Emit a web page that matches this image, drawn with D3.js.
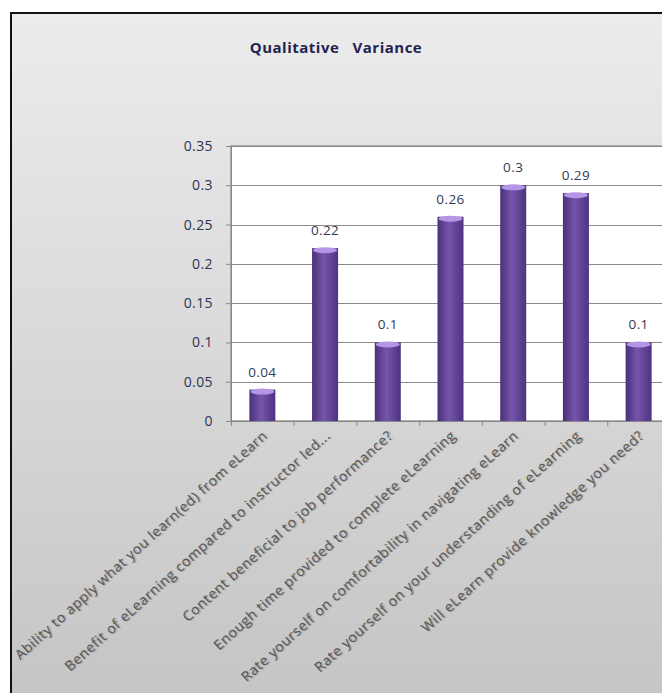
<!DOCTYPE html>
<html>
<head>
<meta charset="utf-8">
<script src="https://cdn.jsdelivr.net/npm/d3@7"></script>
<style>
  body { margin: 0; background: #fff; }
  svg text { font-family: "Open Sans", Lato, sans-serif; }
</style>
</head>
<body>
<div id="chart"></div>
<script>
// Data
const categories = [
  'Ability to apply what you learn(ed) from eLearn',
  'Benefit of eLearning compared to instructor led...',
  'Content beneficial to job performance?',
  'Enough time provided to complete eLearning',
  'Rate yourself on comfortability in navigating eLearn',
  'Rate yourself on your understanding of eLearning',
  'Will eLearn provide knowledge you need?'
];
const values = [0.04, 0.22, 0.1, 0.26, 0.3, 0.29, 0.1];
const yTicks = [0, 0.05, 0.1, 0.15, 0.2, 0.25, 0.3, 0.35];
const title = 'Qualitative   Variance';

const width = 662;
const height = 693;

const svg = d3.select('#chart').append('svg')
  .attr('width', width)
  .attr('height', height);

const defs = svg.append('defs');

// background gradient
const bg = defs.append('linearGradient').attr('id', 'bg')
  .attr('x1', 0).attr('y1', 0).attr('x2', 0).attr('y2', 1);
bg.append('stop').attr('offset', '0%').attr('stop-color', '#ececec');
bg.append('stop').attr('offset', '100%').attr('stop-color', '#c3c3c3');

// cylinder gradient for bars
const cyl = defs.append('linearGradient').attr('id', 'cyl')
  .attr('x1', 0).attr('y1', 0).attr('x2', 1).attr('y2', 0);
cyl.append('stop').attr('offset', '0%').attr('stop-color', '#4a3078');
cyl.append('stop').attr('offset', '45%').attr('stop-color', '#7655ac');
cyl.append('stop').attr('offset', '100%').attr('stop-color', '#4d3380');

// Frame
svg.append('rect')
  .attr('x', 11).attr('y', 13)
  .attr('width', 720).attr('height', 720)
  .attr('fill', 'url(#bg)')
  .attr('stroke', '#111')
  .attr('stroke-width', 2);

// Title
svg.append('text')
  .attr('x', 336).attr('y', 53)
  .attr('text-anchor', 'middle')
  .style('white-space', 'pre')
  .attr('font-size', 15)
  .attr('letter-spacing', 0.5)
  .attr('font-weight', 'bold')
  .attr('fill', '#1f2450')
  .text(title);

// Scales
const plotLeft = 231;
const plotRight = 670;
const plotTop = 146;
const plotBottom = 421;

const x = d3.scaleBand().domain(categories).range([plotLeft, plotRight]).padding(0);
const y = d3.scaleLinear().domain([0, 0.35]).range([plotBottom, plotTop]);

// Plot area
svg.append('rect')
  .attr('x', plotLeft).attr('y', plotTop)
  .attr('width', plotRight - plotLeft).attr('height', plotBottom - plotTop)
  .attr('fill', '#fff')
  .attr('stroke', '#999')
  .attr('stroke-width', 1.5);

// Gridlines
svg.append('g')
  .selectAll('line')
  .data(yTicks.slice(1))
  .enter()
  .append('line')
  .attr('x1', plotLeft).attr('x2', plotRight)
  .attr('y1', (d) => Math.round(y(d)) + 0.5)
  .attr('y2', (d) => Math.round(y(d)) + 0.5)
  .attr('stroke', '#8a8a8a')
  .attr('stroke-width', 1);

// Y axis
const yAxis = d3.axisLeft(y)
  .tickValues(yTicks)
  .tickSize(5)
  .tickPadding(13)
  .tickFormat((d) => d3.format('')(+d.toFixed(2)));

const yG = svg.append('g')
  .attr('transform', `translate(${plotLeft},0)`)
  .call(yAxis);
yG.selectAll('path, line').attr('stroke', '#888');
yG.selectAll('text')
  .attr('font-size', 14)
  .attr('letter-spacing', 0.4)
  .attr('fill', '#2e3350');

// X axis
const xAxis = d3.axisBottom(x).tickSize(0).tickFormat('');
const xG = svg.append('g')
  .attr('transform', `translate(0,${plotBottom})`)
  .call(xAxis);
xG.select('path').attr('stroke', '#888');

// category boundary ticks
svg.append('g')
  .selectAll('line')
  .data(categories)
  .enter()
  .append('line')
  .attr('x1', (d) => x(d) + 0.5).attr('x2', (d) => x(d) + 0.5)
  .attr('y1', plotBottom).attr('y2', plotBottom + 5)
  .attr('stroke', '#888');

// Bars
const barW = 26;
const bars = svg.append('g');

bars.selectAll('rect')
  .data(values)
  .enter()
  .append('rect')
  .attr('x', (d, i) => x(categories[i]) + x.bandwidth() / 2 - barW / 2)
  .attr('y', (d) => y(d))
  .attr('width', barW)
  .attr('height', (d) => plotBottom - y(d))
  .attr('fill', 'url(#cyl)');

bars.selectAll('ellipse')
  .data(values)
  .enter()
  .append('ellipse')
  .attr('cx', (d, i) => x(categories[i]) + x.bandwidth() / 2)
  .attr('cy', (d) => y(d) + 2)
  .attr('rx', barW / 2 - 1)
  .attr('ry', 3)
  .attr('fill', '#b596e6');

// Data labels
svg.append('g')
  .selectAll('text')
  .data(values)
  .enter()
  .append('text')
  .attr('x', (d, i) => x(categories[i]) + x.bandwidth() / 2)
  .attr('y', (d) => y(d) - 13)
  .attr('text-anchor', 'middle')
  .attr('font-size', 13.5)
  .attr('letter-spacing', 0.4)
  .attr('fill', '#333a55')
  .text((d) => d);

// Category labels
svg.append('g')
  .selectAll('text')
  .data(categories)
  .enter()
  .append('text')
  .attr('text-anchor', 'end')
  .attr('font-size', 14)
  .attr('letter-spacing', 0.6)
  .attr('fill', '#555')
  .attr('transform', (d) => `translate(${x(d) + x.bandwidth() / 2 + 6},${plotBottom + 16}) rotate(-42)`)
  .style('text-shadow', '1px 1px 1px rgba(0,0,0,0.25)')
  .text((d) => d);
</script>
</body>
</html>
